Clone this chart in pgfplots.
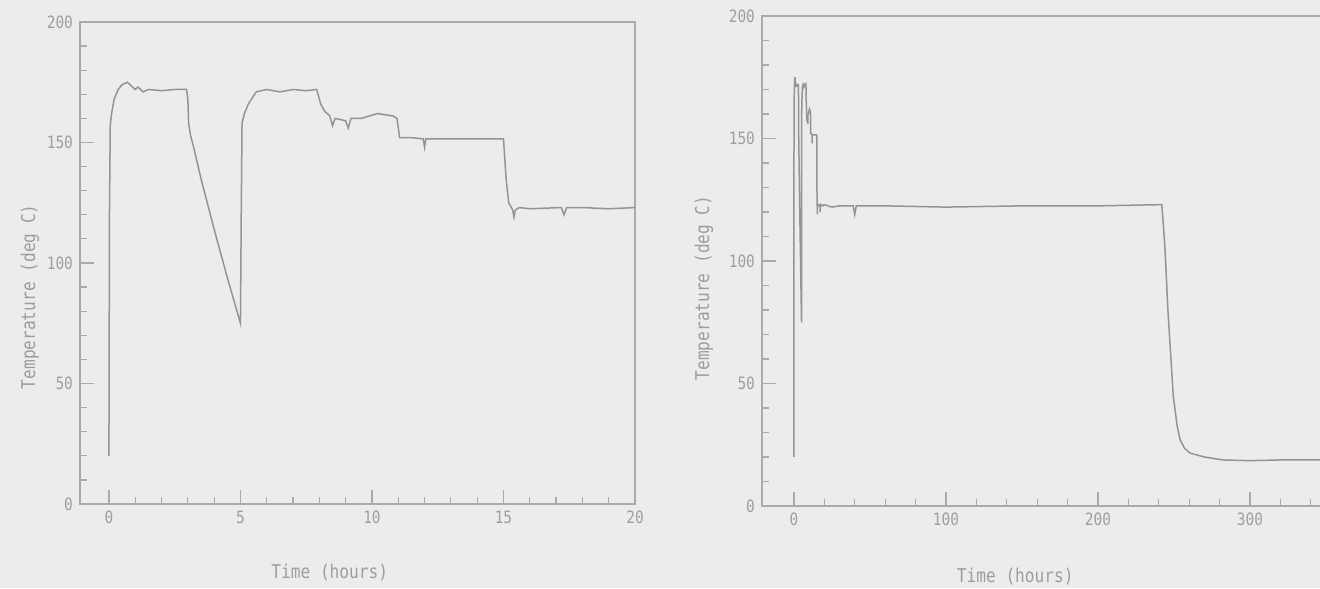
\documentclass[border=0pt]{standalone}
\usepackage{fontspec}
\setmainfont[FakeStretch=0.85]{DejaVu Sans Mono}
\usepackage{pgfplots}
\usepackage{pgfplotstable}
\pgfplotsset{compat=1.18}

\definecolor{bg}{RGB}{236,236,236}
\definecolor{trace}{RGB}{148,148,148}
\definecolor{frame}{RGB}{170,170,170}
\definecolor{txt}{RGB}{158,158,158}

% time (hours), temperature (deg C)
\pgfplotstableread{
t T
0 20
0.02 120
0.05 157
0.1 162
0.2 168
0.35 172
0.5 174
0.7 175
0.9 173
1.0 172
1.1 173
1.3 171
1.5 172
2.0 171.5
2.5 172
2.95 172
3.0 168
3.03 158
3.1 153
3.2 149
3.5 135
4.0 114
4.5 94
5.0 75
5.03 120
5.06 158
5.15 162
5.3 166
5.6 171
6.0 172
6.5 171
7.0 172
7.5 171.5
7.9 172
8.05 166
8.2 163
8.4 161
8.5 157
8.6 160
9.0 159
9.1 156
9.2 160
9.6 160
10.2 162
10.8 161
10.95 160
11.05 152
11.5 152
11.95 151.5
12.0 148
12.05 151.5
13 151.5
14 151.5
15.0 151.5
15.1 135
15.2 125
15.35 122
15.4 119
15.45 122
15.6 123
16 122.5
17.2 123
17.3 120
17.4 123
18 123
19 122.5
20 123
25 122
30 122.5
39 122.5
40 119
41 122.5
60 122.5
100 122
150 122.5
200 122.5
242 123
244 106
246 80
247.5 65
249.5 45
252 33
254 27
257 23.5
260.5 21.6
270 20
282 18.8
300 18.5
320 18.8
350 18.8
}\temps

\pgfplotsset{
  tempax/.style={
    scale only axis, anchor=south west,
    ymin=0, ymax=200,
    ytick={0,50,...,200}, minor ytick={0,10,...,200},
    xtick pos=left, ytick pos=left, tick align=inside,
    major tick length=7pt, minor tick length=3.5pt,
    axis line style={frame, line width=0.8pt},
    every tick/.style={frame, line width=0.6pt},
    /pgf/number format/assume math mode=true,
    tick label style={txt, font=\fontsize{8.5}{10}\selectfont},
    label style={txt, font=\fontsize{9.5}{11}\selectfont},
    ylabel={Temperature (deg C)},
    xlabel={Time (hours)},
    clip=true,
  },
}

\begin{document}
\begin{tikzpicture}
\fill[bg] (0,0) rectangle (660pt,294pt);

\begin{axis}[tempax,
  at={(40pt,42pt)}, width=277.5pt, height=241pt,
  xmin=-1.1, xmax=20,
  xtick={0,5,...,20}, minor xtick={0,1,...,20},
  ylabel style={at={(axis description cs:-0.09,0.43)}, anchor=center},
  xlabel style={at={(axis description cs:0.45,-0.143)}, anchor=center},
]
\addplot[trace, line width=0.75pt] table[x=t, y=T] {\temps};
\end{axis}

\begin{axis}[tempax,
  at={(381pt,41pt)}, width=282pt, height=245pt,
  xmin=-21, xmax=350,
  xtick={0,100,200,300}, minor xtick={0,20,...,340},
  ylabel style={at={(axis description cs:-0.103,0.445)}, anchor=center},
  xlabel style={at={(axis description cs:0.449,-0.143)}, anchor=center},
]
\addplot[trace, line width=0.75pt] table[x=t, y=T] {\temps};
\end{axis}

\pgfresetboundingbox
\useasboundingbox (0,0) rectangle (660pt,294pt);
\end{tikzpicture}
\end{document}
